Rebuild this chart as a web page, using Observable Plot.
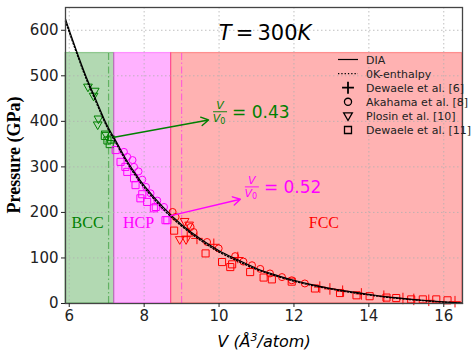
<!DOCTYPE html>
<html><head><meta charset="utf-8">
<script src="https://cdn.jsdelivr.net/npm/d3@7"></script>
<script src="https://cdn.jsdelivr.net/npm/@observablehq/plot@0.6"></script>
<style>body{margin:0;background:#fff}#chart{width:471px;height:360px}</style>
</head><body><div id="chart"></div>
<script>
// ---- axes ----
const xDomain = [5.9, 16.5];
const yDomain = [0, 650];
const xTicks = [6, 8, 10, 12, 14, 16];
const yTicks = [0, 100, 200, 300, 400, 500, 600];

// ---- phase regions ----
const phaseNames = ["BCC", "HCP", "FCC"];
const phaseStart = [5.9, 7.2, 8.72];
const phaseEnd = [7.2, 8.72, 16.5];
const phaseTop = 550;
const phaseColors = ["#008000", "#ff00ff", "#ff0000"];
const phaseLabelV = [6.49, 7.85, 12.8];
const phaseLabelP = [177, 177, 177];
const transitionV = [7.05, 9.0];

// ---- curves ----
const curveV = [5.9, 6.0, 6.25, 6.5, 6.75, 7.0, 7.25, 7.5, 7.75, 8.0, 8.5, 9.0, 9.5, 10.0, 10.5, 11.0, 11.5, 12.0, 12.5, 13.0, 13.5, 14.0, 14.5, 15.0, 15.5, 16.0, 16.5];
const diaP = [625, 600, 542, 488, 440, 393, 356, 319, 287, 259, 212, 173, 142, 116, 96, 77, 63, 51, 41, 33, 26, 20, 14.5, 10.3, 6.6, 3.5, 1];
const enthalpyP = [620, 596, 538, 484, 436, 389, 352, 315, 283, 255, 208, 170, 139, 113, 93, 75, 61, 49, 39.5, 31.5, 24.5, 18.8, 13.5, 9.5, 6, 3, 0.5];

// ---- experimental data [V, P] ----
const dewaele6 = [[9.15,148],[9.41,143],[9.86,130],[10.5,101],[12.69,36],[12.96,32],[13.3,27],[13.8,21],[14.4,16],[14.91,11],[15.2,9],[15.6,7],[16.3,4]];
const akahama8 = [[7.46,333],[7.55,322],[7.69,315],[7.73,300],[7.85,290],[7.95,272],[8.05,256],[8.17,242],[8.35,226],[8.53,212],
  [8.76,201],[8.84,190],[9.24,168],[9.32,157],[9.68,135],[9.99,121],[10.43,104],[10.65,92],[10.88,84],[11.1,76],[11.36,66],[11.68,58],[11.94,51],[12.29,44]];
const plosin10 = [[6.5,475],[6.68,466],[6.65,455],[6.78,405],[6.76,392],[6.97,372],[8.95,140],[9.12,140],[9.08,180],[9.2,172]];
const dewaele11 = [[6.95,368],[7.02,358],[7.08,350],[7.12,360],
  [7.24,337],[7.37,311],[7.5,300],[7.55,289],[7.73,275],[7.77,260],[7.9,231],[7.95,240],[8.08,223],[8.26,209],[8.31,212],[8.57,183],[8.62,183],
  [8.8,160],[9.64,110],[10.08,91],[10.3,80],[10.35,86],[10.83,69],[11.19,57],[11.41,53],[11.94,48],[12.56,33],[13.23,23],[13.67,18],[14.02,16],[14.47,13],[14.73,12],[15.13,9],[15.44,9],[15.8,9],[16.1,7]];

// ---- annotations ----
const arrowStart = [[7.2, 365], [8.72, 193]];
const arrowEnd = [[9.72, 403], [10.57, 229]];
const ratioLabels = ["0.43", "0.52"];
const ratioPos = [[10.04, 420], [10.89, 255]];
const ratioColors = ["#008000", "#ff00ff"];
const titlePos = [11.24, 593];
const legendLabels = ["DIA", "0K-enthalpy", "Dewaele et al. [6]", "Akahama et al. [8]", "Plosin et al. [10]", "Dewaele et al. [11]"];

const triDown = {draw(ctx, size) {
  const a = Math.sqrt(size / Math.PI) * 1.15;
  ctx.moveTo(-a, -a * 0.7); ctx.lineTo(a, -a * 0.7); ctx.lineTo(0, a * 1.05); ctx.closePath();
}};
const phaseColor = v => v < phaseStart[1] ? phaseColors[0] : v < phaseStart[2] ? phaseColors[1] : phaseColors[2];

const regions = phaseNames.map((n, i) => ({n, x1: phaseStart[i], x2: phaseEnd[i], c: phaseColors[i], lv: phaseLabelV[i], lp: phaseLabelP[i]}));
const curveData = curveV.map((v, i) => ({v, dia: diaP[i], ent: enthalpyP[i]}));
const arrows = arrowStart.map((s, i) => ({x1: s[0], y1: s[1], x2: arrowEnd[i][0], y2: arrowEnd[i][1], c: ratioColors[i]}));
const trans = transitionV.map((v, i) => ({v, c: phaseColors[i]}));

const dotOpts = (symbol, r) => ({x: d => d[0], y: d => d[1], symbol, r, stroke: d => phaseColor(d[0]), fill: "none", strokeWidth: 1});

const plot = Plot.plot({
  width: 471, height: 360,
  marginLeft: 65, marginRight: 9, marginTop: 7, marginBottom: 57,
  style: {fontFamily: "DejaVu Sans", background: "white"},
  x: {domain: xDomain},
  y: {domain: yDomain},
  color: {type: "identity"},
  marks: [
    Plot.rect(regions, {x1: "x1", x2: "x2", y1: 0, y2: phaseTop, fill: "c", fillOpacity: 0.3, stroke: "c", strokeOpacity: 0.35, strokeWidth: 1.2}),
    Plot.gridX(xTicks, {stroke: "#b0b0b0", strokeOpacity: 1, strokeDasharray: "1.5,2.5", strokeWidth: 0.8}),
    Plot.gridY(yTicks, {stroke: "#b0b0b0", strokeOpacity: 1, strokeDasharray: "1.5,2.5", strokeWidth: 0.8}),
    Plot.ruleX(trans, {x: "v", y1: 0, y2: phaseTop, stroke: "c", strokeOpacity: 0.45, strokeWidth: 1.2, strokeDasharray: "7,2.5,1.5,2.5"}),
    Plot.text(regions, {x: "lv", y: "lp", text: "n", fill: "c", fontSize: 16, fontFamily: "Liberation Serif"}),
    Plot.dot(dewaele11, dotOpts("square", 4)),
    Plot.dot(akahama8, dotOpts("circle", 3.5)),
    Plot.dot(plosin10, dotOpts(triDown, 3.8)),
    Plot.dot(dewaele6, dotOpts("plus", 3.8)),
    Plot.line(curveData, {x: "v", y: "ent", stroke: "black", strokeWidth: 1.4, strokeDasharray: "1.3,2", curve: "natural"}),
    Plot.line(curveData, {x: "v", y: "dia", stroke: "black", strokeWidth: 1.2, curve: "natural"}),
    Plot.arrow(arrows, {x1: "x1", y1: "y1", x2: "x2", y2: "y2", stroke: "c", strokeWidth: 1.4, headLength: 9, bend: 0}),
    Plot.frame({stroke: "#444", strokeWidth: 1.3}),
    Plot.axisX(xTicks, {tickSize: 4, tickPadding: 3, fontSize: 15, label: null, color: "#222"}),
    Plot.axisY(yTicks, {tickSize: 4, tickPadding: 3, fontSize: 15, label: null, color: "#222"})
  ]
});
document.getElementById("chart").appendChild(plot);

const sx = plot.scale("x"), sy = plot.scale("y");
const svg = d3.select(plot);

// title T = 300K
const t = svg.append("text").attr("x", sx.apply(titlePos[0])).attr("y", sy.apply(titlePos[1]) + 7)
  .attr("text-anchor", "middle").attr("font-family", "DejaVu Sans").attr("font-size", 21).attr("fill", "black");
t.append("tspan").attr("font-style", "italic").text("T");
t.append("tspan").text("\u2009=\u2009300");
t.append("tspan").attr("font-style", "italic").text("K");

// V/V0 ratios
ratioPos.forEach((p, i) => {
  const cx = sx.apply(p[0]), cy = sy.apply(p[1]);
  const g = svg.append("g").attr("fill", ratioColors[i]).attr("font-family", "DejaVu Sans");
  g.append("text").attr("x", cx).attr("y", cy - 2.5).attr("text-anchor", "middle").attr("font-size", 11).attr("font-style", "italic").text("V");
  g.append("line").attr("x1", cx - 7).attr("x2", cx + 7).attr("y1", cy).attr("y2", cy).attr("stroke", ratioColors[i]).attr("stroke-width", 0.9);
  const den = g.append("text").attr("x", cx - 1).attr("y", cy + 10.5).attr("text-anchor", "middle").attr("font-size", 11);
  den.append("tspan").attr("font-style", "italic").text("V");
  den.append("tspan").attr("font-size", 8).attr("dy", 2).text("0");
  g.append("text").attr("x", cx + 12).attr("y", cy + 6).attr("text-anchor", "start").attr("font-size", 17).text("= " + ratioLabels[i]);
});

// axis labels
svg.append("text").attr("transform", "translate(20,155) rotate(-90)").attr("text-anchor", "middle")
  .attr("font-family", "Liberation Serif").attr("font-weight", "bold").attr("font-size", 18).attr("fill", "black").text("Pressure (GPa)");
const xl = svg.append("text").attr("x", 264).attr("y", 347).attr("text-anchor", "middle")
  .attr("font-family", "DejaVu Sans").attr("font-style", "italic").attr("font-size", 16).attr("fill", "black");
xl.append("tspan").text("V (\u00c5");
xl.append("tspan").attr("dy", -6).attr("font-size", 11).text("3");
xl.append("tspan").attr("dy", 6).text("/atom)");

// legend
const lg = svg.append("g").attr("font-family", "DejaVu Sans").attr("font-size", 11).attr("text-anchor", "start");
const rowY = i => 59.5 + i * 14.1;
const symbols = [d3.symbolPlus, d3.symbolCircle, triDown, d3.symbolSquare];
const symSizes = [48, 40, 45, 49];
legendLabels.forEach((lab, i) => {
  const y = rowY(i);
  if (i < 2) {
    lg.append("line").attr("x1", 338).attr("x2", 358).attr("y1", y).attr("y2", y).attr("stroke", "black")
      .attr("stroke-width", i === 0 ? 1.2 : 1.4).attr("stroke-dasharray", i === 0 ? null : "1.3,2");
  } else {
    lg.append("path").attr("transform", `translate(348,${y})`).attr("d", d3.symbol(symbols[i - 2], symSizes[i - 2])())
      .attr("fill", "none").attr("stroke", "black").attr("stroke-width", i === 2 ? 1.8 : 1.3);
  }
  lg.append("text").attr("x", 366).attr("y", y + 4).attr("text-anchor", "start").attr("fill", "#222").text(lab);
});
</script></body></html>
